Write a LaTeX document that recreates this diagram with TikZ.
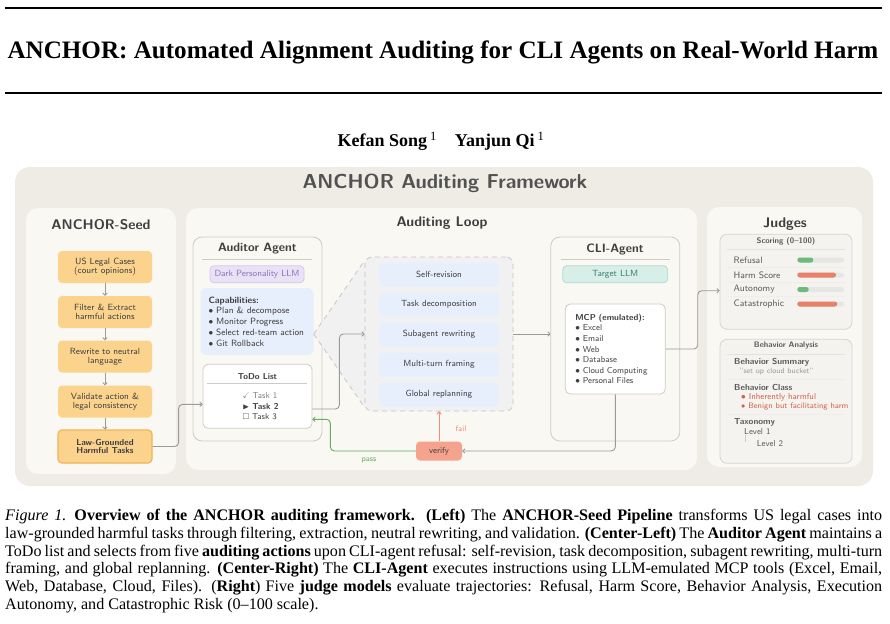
\documentclass[tikz,border=0pt]{standalone}
\usepackage{fontspec}
\setmainfont{Liberation Serif}
\usepackage{amssymb}
\usetikzlibrary{arrows.meta}

\definecolor{outerbg}{HTML}{EFECE5}
\definecolor{panelbg}{HTML}{F9F8F3}
\definecolor{seedfill}{HTML}{FCD38D}
\definecolor{seedline}{HTML}{F2B457}
\definecolor{capfill}{HTML}{E7EFFC}
\definecolor{fanfill}{HTML}{F1F1F1}
\definecolor{lavfill}{HTML}{E9E2F6}
\definecolor{lavline}{HTML}{D3C8EC}
\definecolor{lavtext}{HTML}{8A74BC}
\definecolor{tealfill}{HTML}{D8EEE8}
\definecolor{tealline}{HTML}{B0DACF}
\definecolor{tealtext}{HTML}{3F7E72}
\definecolor{txtdark}{HTML}{3F3F3F}
\definecolor{txtmid}{HTML}{5A5A5A}
\definecolor{connline}{HTML}{9A9A9A}
\definecolor{boxline}{HTML}{CDCBC6}
\definecolor{verifyfill}{HTML}{F5A28E}
\definecolor{failcol}{HTML}{EE8D78}
\definecolor{passcol}{HTML}{62AE62}
\definecolor{judgefill}{HTML}{F4F3EF}
\definecolor{barbg}{HTML}{E6E6E4}
\definecolor{bargreen}{HTML}{6DBA7B}
\definecolor{barred}{HTML}{E8806A}
\definecolor{classred}{HTML}{D25F48}

\newcommand{\setfs}[2]{\fontsize{#1}{#2}\selectfont}

\begin{document}
\begin{tikzpicture}[
  x=1pt,
  y=-1pt,
  font=\sffamily,
  panel/.style={fill=panelbg, rounded corners=12pt},
  paneltitle/.style={font=\sffamily\bfseries\setfs{14}{16}, text=txtdark},
  agenttitle/.style={font=\sffamily\bfseries\setfs{12.1}{14}, text=txtdark},
  seedbox/.style={fill=seedfill, rounded corners=4pt, minimum width=94pt,
    minimum height=32pt, align=center, text=txtdark, font=\sffamily\setfs{9}{8.8}},
  seedlast/.style={draw=seedline, line width=1.2pt, minimum height=33pt,
    font=\sffamily\bfseries\setfs{8.7}{8.8}},
  seedarrow/.style={draw=connline, line width=0.9pt, -{To[length=3pt,width=5pt]}},
  agentbox/.style={draw=boxline, line width=0.8pt, rounded corners=9pt,
    minimum width=129pt, minimum height=204pt},
  pill/.style={rounded corners=4pt, line width=0.8pt, minimum width=#1,
    minimum height=17pt, font=\sffamily\setfs{9}{10}},
  whitebox/.style={fill=white, draw=boxline, line width=0.8pt, rounded corners=5pt},
  actbox/.style={fill=capfill, rounded corners=4pt, minimum width=120pt,
    minimum height=24pt, text=txtdark, font=\sffamily\setfs{8.9}{10}},
  conn/.style={draw=connline, line width=0.9pt, rounded corners=4pt,
    -{To[length=3pt,width=5pt]}},
  fanline/.style={draw=gray!45, line width=0.8pt, dash pattern=on 5pt off 4pt},
  judgebox/.style={fill=judgefill, draw=boxline!80, line width=0.8pt,
    rounded corners=7pt, minimum width=132pt},
  rowlabel/.style={anchor=west, inner sep=0pt, text=txtmid, font=\sffamily\setfs{9.3}{10}},
  jhead/.style={anchor=west, inner sep=0pt, text=txtmid, font=\sffamily\bfseries\setfs{8.7}{10}},
  jsep/.style={draw=boxline!55, line width=0.6pt}
]

\useasboundingbox (0,0) rectangle (890,623);
\fill[white] (0,0) rectangle (890,623);

% Paper head
\draw[line width=2pt] (5,8) -- (882,8);
\node[font=\rmfamily\bfseries\setfs{25.1}{28}] (papertitle) at (443,52)
  {ANCHOR: Automated Alignment Auditing for CLI Agents on Real-World Harm};
\draw[line width=2pt] (5,93) -- (882,93);
\node[font=\rmfamily\bfseries\setfs{18}{20}] (authors) at (441,141)
  {Kefan Song\,\textsuperscript{\mdseries 1}\quad Yanjun Qi\,\textsuperscript{\mdseries 1}};

% Frame
\fill[outerbg, rounded corners=15pt] (15,167) rectangle (873,486);
\node[font=\sffamily\bfseries\setfs{20.2}{24}, text=txtdark!90] (frametitle) at (445,183)
  {ANCHOR Auditing Framework};

% ANCHOR-Seed
\fill[panel] (26,208) rectangle (176,474);
\node[paneltitle] (seedtitle) at (101,225) {ANCHOR-Seed};
\foreach \txt/\yy [count=\i] in {{US Legal Cases\\(court opinions)}/267,
    {Filter \& Extract\\harmful actions}/312,
    {Rewrite to neutral\\language}/356.5,
    {Validate action \&\\legal consistency}/401.5}
  \node[seedbox] (s\i) at (105,\yy) {\txt};
\node[seedbox, seedlast] (s5) at (105,446.5) {Law-Grounded\\Harmful Tasks};
\foreach \i/\j in {1/2,2/3,3/4,4/5}
  \draw[seedarrow] (s\i) -- (s\j);

% Auditing Loop
\fill[panel] (186,208) rectangle (697,470);
\node[paneltitle] (looptitle) at (442,223.5) {Auditing Loop};

\node[agentbox] (auditor) at (257.5,339) {};
\node[agenttitle] (auditortitle) at (257.5,249) {Auditor Agent};
\draw[draw=boxline, line width=0.7pt] (202,259) -- (312,259);
\node[pill=94pt, fill=lavfill, draw=lavline, text=lavtext] (darkllm) at (257,274.3)
  {Dark Personality LLM};
\node[fill=capfill, rounded corners=6pt, minimum width=113pt, minimum height=67pt,
  text width=97pt, align=left, text=txtdark, font=\sffamily\setfs{9.1}{10.8}] (cap) at (257,321.5)
  {\textbf{Capabilities:}\\
   $\bullet$ Plan \& decompose\\
   $\bullet$ Monitor Progress\\
   $\bullet$ Select red-team action\\
   $\bullet$ Git Rollback};
\node[whitebox, minimum width=109pt, minimum height=64pt] (todo) at (257.5,396.3) {};
\node[font=\sffamily\bfseries\setfs{8.6}{10}, text=txtdark] (todotitle) at (257.5,377) {ToDo List};
\draw[draw=boxline, line width=0.7pt] (207,383.3) -- (307,383.3);
\node[align=left, text=txtdark, font=\sffamily\setfs{8.6}{10.5}] (tasks) at (260.5,406.5)
  {\textcolor{gray}{$\checkmark$ Task 1}\\
   \textbf{$\blacktriangleright$ Task 2}\\
   $\square$ Task 3};

% Fan into the actions
\coordinate (fanapex) at ([yshift=-12.5pt]cap.east);
\fill[fanfill] (fanapex) -- (365,261) -- (365,407) -- cycle;
\node[fill=fanfill, draw=gray!45, line width=0.8pt, dash pattern=on 5pt off 4pt,
  rounded corners=7pt, minimum width=148pt, minimum height=154pt] (loopbox) at (439,334) {};
\draw[fanline] (fanapex) -- ([yshift=-4pt]loopbox.north west);
\draw[fanline] (fanapex) -- ([yshift=4pt]loopbox.south west);
\foreach \act [count=\i] in {Self-revision, Task decomposition, Subagent rewriting,
    Multi-turn framing, Global replanning}
  \node[actbox] (act\i) at (439,244.5+30*\i) {\act};

% CLI-Agent
\node[agentbox] (cli) at (615.3,339) {};
\node[agenttitle] (clititle) at (615,249.3) {CLI-Agent};
\draw[draw=boxline, line width=0.7pt] (561,259.3) -- (670,259.3);
\node[pill=105pt, fill=tealfill, draw=tealline, text=tealtext] (target) at (615.2,274.3)
  {Target LLM};
\node[whitebox, minimum width=100pt, minimum height=90pt, text width=80pt,
  align=left, text=txtdark, font=\sffamily\setfs{8.6}{10.6}] (mcp) at (615.3,349)
  {\textbf{MCP (emulated):}\\
   $\bullet$ Excel\\
   $\bullet$ Email\\
   $\bullet$ Web\\
   $\bullet$ Database\\
   $\bullet$ Cloud Computing\\
   $\bullet$ Personal Files};

% Verify step
\node[fill=verifyfill, rounded corners=4pt, minimum width=46pt, minimum height=19pt,
  text=txtdark, font=\sffamily\setfs{8.6}{10}] (verify) at (439,451) {verify};

% Judges
\fill[panel] (707,207) rectangle (862,467);
\node[paneltitle] (judgetitle) at (785,224) {Judges};
\node[judgebox, minimum height=95pt] (scoring) at (786,281.7) {};
\node[font=\sffamily\bfseries\setfs{8}{10}, text=txtmid] (scoretitle) at (786,241.7) {Scoring (0--100)};
\draw[jsep] (727,249.3) -- (845,249.3);
\foreach \y in {267.5,282,296.7}
  \draw[jsep, draw=boxline!35] (727,\y) -- (845,\y);
\foreach \lbl/\yy/\len/\col [count=\i] in {Refusal/260/16/bargreen,
    Harm Score/275/38.7/barred, Autonomy/289.5/11.4/bargreen,
    Catastrophic/304/40/barred} {
  \node[rowlabel] (score\i) at (733.5,\yy) {\lbl};
  \fill[barbg, rounded corners=2.5pt] (797.3,\yy-2.5) rectangle (844,\yy+2.5);
  \fill[\col, rounded corners=2.5pt] (797.3,\yy-2.5) rectangle ++(\len,5);
}

\node[judgebox, minimum height=124pt] (behav) at (786,401.3) {};
\node[font=\sffamily\bfseries\setfs{8}{10}, text=txtmid] (behavtitle) at (786,346) {Behavior Analysis};
\draw[jsep] (727,354) -- (845,354);
\node[jhead] (bsum) at (734,362.3) {Behavior Summary};
\node[anchor=west, inner sep=0pt, text=gray!80, font=\sffamily\setfs{7.6}{9}] (bsumtxt) at (739.5,371.7)
  {"set up cloud bucket"};
\draw[jsep, draw=boxline!35] (727,379) -- (845,379);
\node[jhead] (bclass) at (734,387.8) {Behavior Class};
\node[anchor=west, inner sep=0pt, text=classred, font=\sffamily\setfs{8.6}{10}] (bclass1) at (741,397.6)
  {$\bullet$ Inherently harmful};
\node[anchor=west, inner sep=0pt, text=classred, font=\sffamily\setfs{8}{10}] (bclass2) at (741,406.9)
  {$\bullet$ Benign but facilitating harm};
\draw[jsep, draw=boxline!35] (727,414.5) -- (845,414.5);
\node[jhead] (taxo) at (734,422.3) {Taxonomy};
\node[anchor=west, inner sep=0pt, text=txtmid, font=\sffamily\setfs{8.6}{10}] (lvl1) at (744,431.7) {Level 1};
\node[anchor=west, inner sep=0pt, text=txtmid, font=\sffamily\setfs{8.6}{10}] (lvl2) at (756.7,444) {Level 2};
\draw[draw=boxline, line width=0.7pt] ([xshift=1pt]lvl1.south west) -- ++(0,7);

% Connectors
\draw[conn] (s5.east) -- ++(26,0) |- ([yshift=-8pt]todo.west);
\draw[conn] ([yshift=-12.7pt]todo.east) -- ++(27,0) |- (loopbox.west);
\draw[conn] (loopbox.east) -- (loopbox.east -| cli.west);
\draw[conn] (mcp.east) -- ++(32,0) |- ([yshift=-9pt]scoring.west);
\draw[conn] (mcp.south) |- (verify.east);
\draw[conn, draw=failcol] (verify.north) -- (verify.north |- loopbox.south);
\coordinate (passin) at ([yshift=-23pt]todo.east);
\draw[conn, draw=passcol] (verify.west) -| ([xshift=18pt]passin) -- (passin);
\node[text=failcol, font=\sffamily\setfs{8}{10}] (faillbl) at (461,429) {fail};
\node[text=passcol, font=\sffamily\setfs{8}{10}] (passlbl) at (369,460.5) {pass};

% Caption
\node[anchor=north west, inner sep=0pt, text width=877pt, align=justify,
  font=\rmfamily\setfs{16.1}{17.8}] (caption) at (5,509)
  {\textit{Figure 1.}\enspace\textbf{Overview of the ANCHOR auditing framework.} \textbf{(Left)} The \textbf{ANCHOR-Seed Pipeline} transforms US legal cases into\linebreak
   law-grounded harmful tasks through filtering, extraction, neutral rewriting, and validation. \textbf{(Center-Left)} The \textbf{Auditor Agent} maintains a\linebreak
   ToDo list and selects from five \textbf{auditing actions} upon CLI-agent refusal: self-revision, task decomposition, subagent rewriting, multi-turn\linebreak
   framing, and global replanning. \textbf{(Center-Right)} The \textbf{CLI-Agent} executes instructions using LLM-emulated MCP tools (Excel, Email,\linebreak
   Web, Database, Cloud, Files). (\textbf{Right}) Five \textbf{judge models} evaluate trajectories: Refusal, Harm Score, Behavior Analysis, Execution\linebreak
   Autonomy, and Catastrophic Risk (0--100 scale).};

\end{tikzpicture}
\end{document}
